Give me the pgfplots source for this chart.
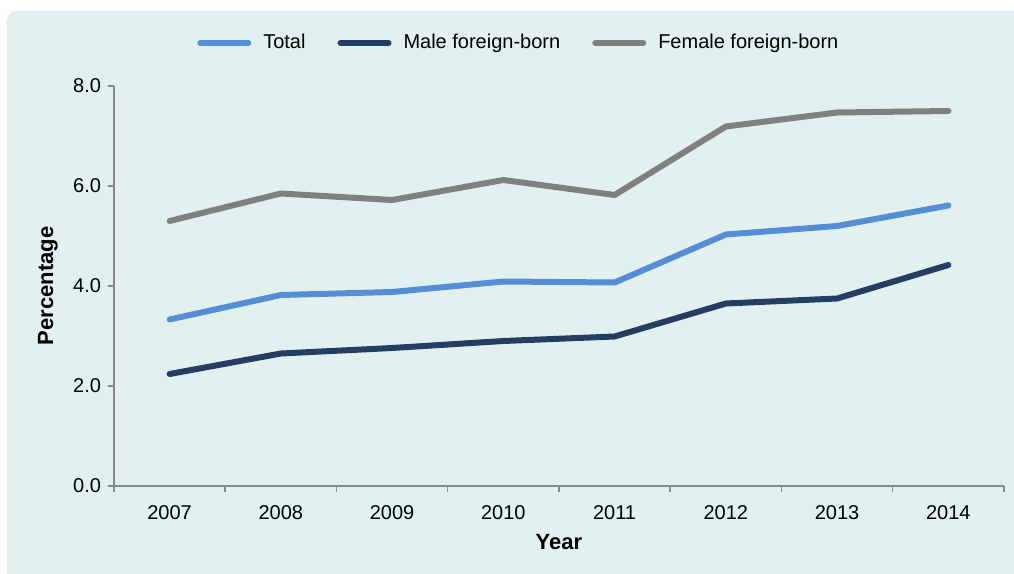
\documentclass[border=0pt]{standalone}
\usepackage{pgfplots}
\pgfplotsset{compat=1.18}
\usepackage{fontspec}
\setmainfont{Liberation Sans}

\definecolor{panel}{RGB}{226,241,240}
\definecolor{totalc}{RGB}{85,142,213}
\definecolor{malec}{RGB}{35,62,98}
\definecolor{femalec}{RGB}{128,128,128}
\definecolor{axisc}{RGB}{137,137,137}

\begin{document}
\begin{tikzpicture}
\useasboundingbox (-57pt,-44pt) rectangle (450pt,243pt);
\fill[white] (-57pt,-44pt) rectangle (450pt,243pt);
\fill[panel, rounded corners=5pt] (-53.5pt,-60pt) rectangle (470pt,237.5pt);
\begin{axis}[
	width=445pt, height=200pt,
	scale only axis,
	at={(0,0)}, anchor=south west,
	xmin=2006.5, xmax=2014.5,
	ymin=0, ymax=8,
	axis lines*=left,
	axis line style={axisc, line width=0.75pt},
	every tick/.style={axisc, line width=0.75pt},
	tick align=outside,
	xtick={2007,...,2014},
	major x tick style={draw=none},
	minor xtick={2006.5,2007.5,...,2014.5},
	minor tick length=3pt,
	ytick={0,2,4,6,8},
	major tick length=3pt,
	xticklabel style={font=\fontsize{10}{11}\selectfont, yshift=-3pt},
	xticklabels={2007,2008,2009,2010,2011,2012,2013,2014},
	yticklabel style={font=\fontsize{10}{11}\selectfont,
		/pgf/number format/.cd, fixed, fixed zerofill, precision=1, assume math mode=true},
	xlabel={\bfseries Year},
	ylabel={\bfseries Percentage},
	label style={font=\fontsize{11}{12}\selectfont},
	x label style={at={(axis description cs:0.5,0)}, anchor=center, yshift=-28pt},
	y label style={at={(axis description cs:0,0.5)}, anchor=center, yshift=33pt},
	legend columns=3,
	legend style={at={(0.456,1.1075)}, anchor=center, draw=none, fill=none,
		font=\fontsize{10}{11}\selectfont,
		/tikz/every odd column/.append style={column sep=4pt},
		/tikz/every even column/.append style={column sep=14pt}},
	legend image code/.code={\draw[#1, line cap=round] (0pt,0pt) -- (24pt,0pt);},
	every axis plot/.append style={line width=3pt, line cap=round, line join=round},
]
\addplot[totalc] coordinates {
	(2007,3.33) (2008,3.82) (2009,3.88) (2010,4.09)
	(2011,4.07) (2012,5.03) (2013,5.20) (2014,5.61)
};
\addlegendentry{Total}
\addplot[malec] coordinates {
	(2007,2.24) (2008,2.65) (2009,2.76) (2010,2.90)
	(2011,2.99) (2012,3.65) (2013,3.75) (2014,4.42)
};
\addlegendentry{Male foreign-born}
\addplot[femalec] coordinates {
	(2007,5.30) (2008,5.85) (2009,5.72) (2010,6.12)
	(2011,5.82) (2012,7.19) (2013,7.47) (2014,7.50)
};
\addlegendentry{Female foreign-born}
\end{axis}
\end{tikzpicture}
\end{document}
